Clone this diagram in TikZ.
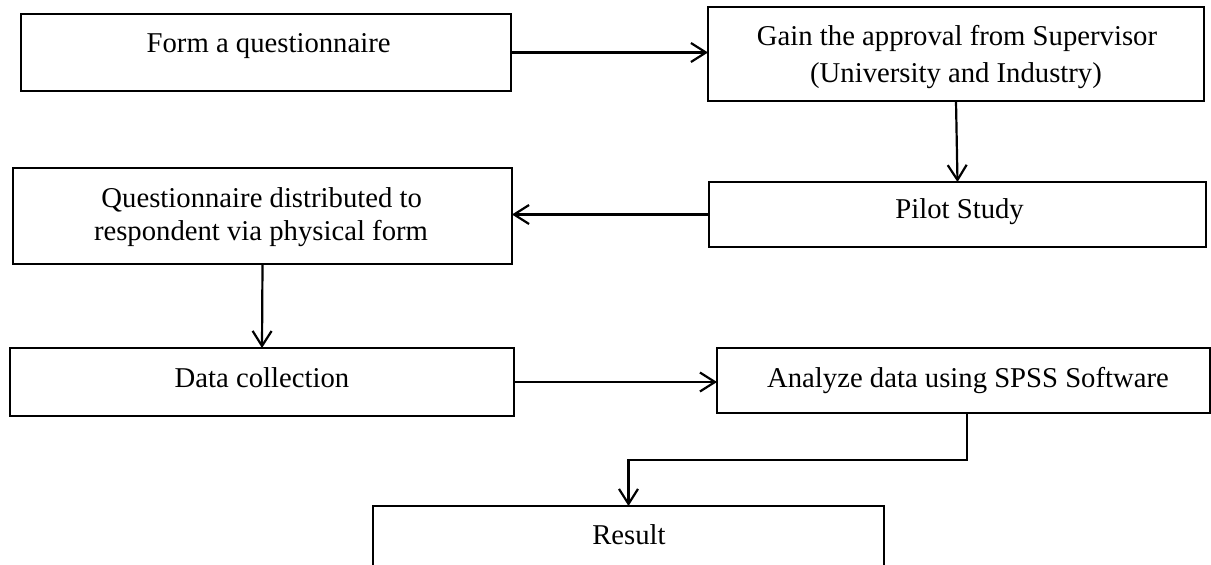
\documentclass[tikz,border=0pt]{standalone}
\usepackage{fontspec}
\setmainfont{Liberation Serif}
\usetikzlibrary{arrows.meta,calc}
\begin{document}
\begin{tikzpicture}[x=1pt,y=-1pt,
  box/.style={draw,line width=2.2pt,inner sep=0pt,outer sep=0pt},
  txt/.style={inner sep=0pt,anchor=base,font=\fontsize{28.7}{35}\selectfont},
  arr/.style={line width=2.2pt,-{Straight Barb[length=15pt,width=19pt]}}]
\useasboundingbox (0,0) rectangle (1211,565);
\clip (0,0) rectangle (1211,565);
% boxes
\node[box,minimum width=490pt,minimum height=77pt] (b1) at (266,52.5) {};
\node[box,minimum width=496pt,minimum height=94pt] (b2) at (956,54) {};
\node[box,minimum width=497pt,minimum height=65pt] (b3) at (957.5,214.5) {};
\node[box,minimum width=499pt,minimum height=96pt] (b4) at (262.5,216) {};
\node[box,minimum width=504pt,minimum height=68pt] (b5) at (262,382) {};
\node[box,minimum width=493pt,minimum height=65pt] (b6) at (963.5,380.5) {};
\node[box,minimum width=511pt,minimum height=114pt] (b7) at (628.5,563) {};
% texts
\node[txt] (t1) at (268.6,52) {Form a questionnaire};
\node[txt] (t2a) at (957,45) {Gain the approval from Supervisor};
\node[txt] (t2b) at (956,82) {(University and Industry)};
\node[txt] (t3) at (959.6,218) {Pilot Study};
\node[txt] (t4a) at (261.7,207) {Questionnaire distributed to};
\node[txt] (t4b) at (261,240) {respondent via physical form};
\node[txt] (t5) at (262,387) {Data collection};
\node[txt] (t6) at (968,387) {Analyze data using SPSS Software};
\node[txt] (t7) at (629,544) {Result};
% connectors
\draw[arr] (b1.east) -- (b1.east -| b2.west);
\draw[arr] (b2.south) -- (b3.north);
\draw[arr] (b3.west) -- (b3.west -| b4.east);
\draw[arr] (b4.south) -- (b5.north);
\draw[arr] (b5.east) -- (b5.east -| b6.west);
\coordinate (k) at (628.5,460);
\draw[arr] ([xshift=3.5pt]b6.south) |- (k) -- (b7.north);
\end{tikzpicture}
\end{document}
